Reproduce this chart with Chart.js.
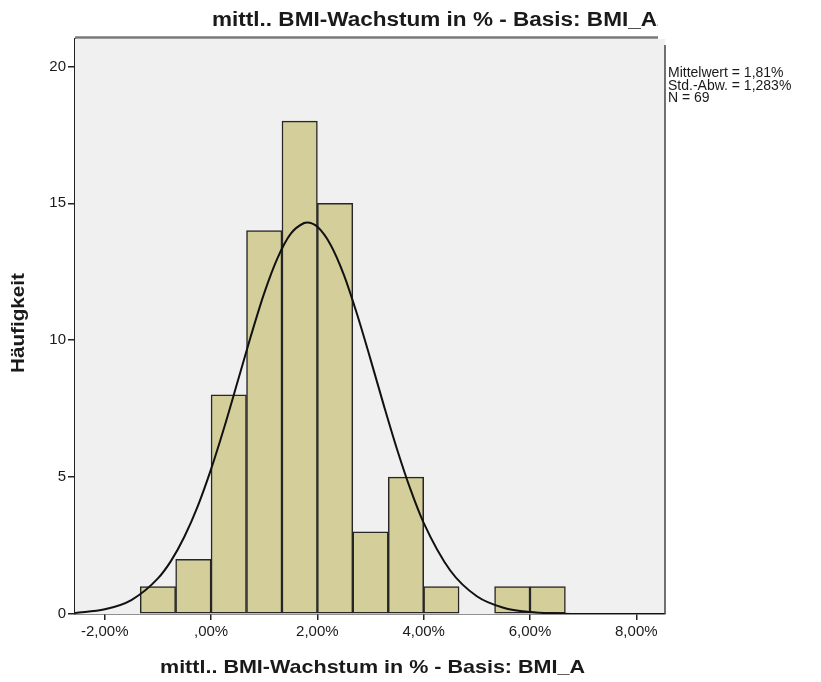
<!DOCTYPE html>
<html>
<head>
<meta charset="utf-8">
<script src="https://cdn.jsdelivr.net/npm/chart.js@4/dist/chart.umd.min.js"></script>
<style>
  html, body { margin: 0; padding: 0; background: #fff; }
  #wrap { width: 821px; height: 682px; }
</style>
</head>
<body>
<div id="wrap"><canvas id="histChart" width="821" height="682"></canvas></div>
<script>
// histogram bins (centres in %, width 2/3 %)
const binCenters = [-1.0, -0.333, 0.333, 1.0, 1.667, 2.333, 3.0, 3.667, 4.333, 5.0, 5.667, 6.333];
const binCounts = [1, 2, 8, 14, 18, 15, 3, 5, 1, 0, 1, 1];

// normal curve
const curveX = [-2.56, -2.0, -1.5, -1.0, -0.75, -0.5, -0.25, 0, 0.25, 0.5, 0.75, 1.0, 1.25, 1.5, 1.75, 1.81,
  2.0, 2.25, 2.5, 2.75, 3.0, 3.25, 3.5, 3.75, 4.0, 4.5, 5.0, 5.5, 6.0, 6.5, 7.0, 8.54];
const curveY = [0.04, 0.17, 0.51, 1.30, 1.95, 2.83, 3.94, 5.29, 6.83, 8.49, 10.16, 11.72, 13.00, 13.89, 14.28, 14.30,
  14.14, 13.48, 12.38, 10.93, 9.30, 7.62, 6.01, 4.56, 3.33, 1.59, 0.65, 0.23, 0.07, 0.02, 0.0, 0.0];

const xTicks = [-2, 0, 2, 4, 6, 8];
const xTickLabels = ['-2,00%', ',00%', '2,00%', '4,00%', '6,00%', '8,00%'];
const yTicks = [0, 5, 10, 15, 20];

const varLabel = 'mittl.. BMI-Wachstum in % - Basis: BMI_A2';
const statsLines = ['Mittelwert = 1,81%', 'Std.-Abw. = 1,283%', 'N = 69'];
const yTitle = 'Häufigkeit';

const barFill = 'rgb(212,207,154)';
const ink = '#1a1a1a';

// draws text stretched so that `ref` spans `width`, optionally clipped on the right
function fitText(ctx, text, ref, x, y, font, width, clipRight) {
  ctx.save();
  ctx.font = font;
  const w = ctx.measureText(ref).width;
  if (clipRight) {
    ctx.beginPath();
    ctx.rect(0, 0, clipRight, 682);
    ctx.clip();
  }
  ctx.translate(x, y);
  ctx.scale(width / w, 1);
  ctx.fillStyle = ink;
  ctx.textBaseline = 'middle';
  ctx.textAlign = 'left';
  ctx.fillText(text, 0, 0);
  ctx.restore();
}

const frame = {
  id: 'frame',
  beforeDatasetsDraw(chart) {
    const { ctx, chartArea: a } = chart;
    ctx.save();
    ctx.fillStyle = '#f0f0f0';
    ctx.fillRect(a.left, a.top, a.right - a.left, a.bottom - a.top);
    ctx.restore();
  },
  afterDraw(chart) {
    const { ctx, chartArea: a } = chart;
    ctx.save();
    // top edge (grey) and right edge
    ctx.strokeStyle = '#7a7a7a';
    ctx.lineWidth = 2.5;
    ctx.beginPath();
    ctx.moveTo(a.left, a.top - 1.5);
    ctx.lineTo(a.right - 7, a.top - 1.5);
    ctx.stroke();
    ctx.strokeStyle = '#444';
    ctx.lineWidth = 1.5;
    ctx.beginPath();
    ctx.moveTo(a.right, a.top + 6);
    ctx.lineTo(a.right, a.bottom);
    ctx.stroke();
    ctx.restore();

    const prefix = varLabel.slice(0, -1);
    // chart title, cut at the frame
    fitText(ctx, varLabel, prefix, 212, 20, 'bold 20px "Liberation Sans", Arial, sans-serif', 445, 658);
    // x axis title, cut
    fitText(ctx, varLabel, prefix, 160, 668, 'bold 19px "Liberation Sans", Arial, sans-serif', 425, 585);

    // y axis title rotated
    ctx.save();
    ctx.translate(19, 373);
    ctx.rotate(-Math.PI / 2);
    fitText(ctx, yTitle, yTitle, 0, 0, 'bold 18px "Liberation Sans", Arial, sans-serif', 100);
    ctx.restore();

    // statistics box
    ctx.save();
    ctx.font = '14px "Liberation Sans", Arial, sans-serif';
    ctx.fillStyle = ink;
    ctx.textBaseline = 'middle';
    statsLines.forEach((t, i) => ctx.fillText(t, 668, 73 + i * 12.8));
    ctx.restore();
  }
};

const chart = new Chart(document.getElementById('histChart'), {
  data: {
    datasets: [
      {
        type: 'line',
        label: 'Normal',
        data: curveX.map((x, i) => ({ x, y: curveY[i] })),
        borderColor: '#111',
        borderWidth: 2,
        pointRadius: 0,
        fill: false,
        tension: 0,
        cubicInterpolationMode: 'monotone',
        order: 0
      },
      {
        type: 'bar',
        label: 'Häufigkeit',
        data: binCenters.map((x, i) => ({ x, y: binCounts[i] })),
        backgroundColor: barFill,
        borderColor: '#262626',
        borderWidth: 1.5,
        borderSkipped: false,
        barPercentage: 1,
        categoryPercentage: 1,
        order: 1
      }
    ]
  },
  options: {
    responsive: false,
    animation: false,
    layout: { padding: { left: 0, top: 39, right: 156, bottom: 0 } },
    plugins: { legend: { display: false }, tooltip: { enabled: false }, title: { display: false } },
    scales: {
      x: {
        type: 'linear',
        offset: false,
        min: -2.56,
        max: 8.54,
        afterFit(scale) { scale.height = 68; },
        afterBuildTicks(scale) { scale.ticks = xTicks.map(v => ({ value: v })); },
        grid: { offset: false, drawOnChartArea: false, drawTicks: true, tickLength: 6, color: '#222', lineWidth: 1.5 },
        border: { display: true, color: '#222', width: 1.5 },
        ticks: {
          padding: 3,
          color: ink,
          font: { family: '"Liberation Sans", Arial, sans-serif', size: 15 },
          maxRotation: 0,
          callback: (v) => xTickLabels[xTicks.indexOf(v)]
        }
      },
      y: {
        type: 'linear',
        min: 0,
        max: 21,
        afterFit(scale) { scale.width = 75; },
        afterBuildTicks(scale) { scale.ticks = yTicks.map(v => ({ value: v })); },
        grid: { drawOnChartArea: false, drawTicks: true, tickLength: 7, color: '#222', lineWidth: 1.5 },
        border: { display: true, color: '#222', width: 1.5 },
        ticks: {
          padding: 2,
          color: ink,
          font: { family: '"Liberation Sans", Arial, sans-serif', size: 15 }
        }
      }
    }
  },
  plugins: [frame]
});
</script>
</body>
</html>
